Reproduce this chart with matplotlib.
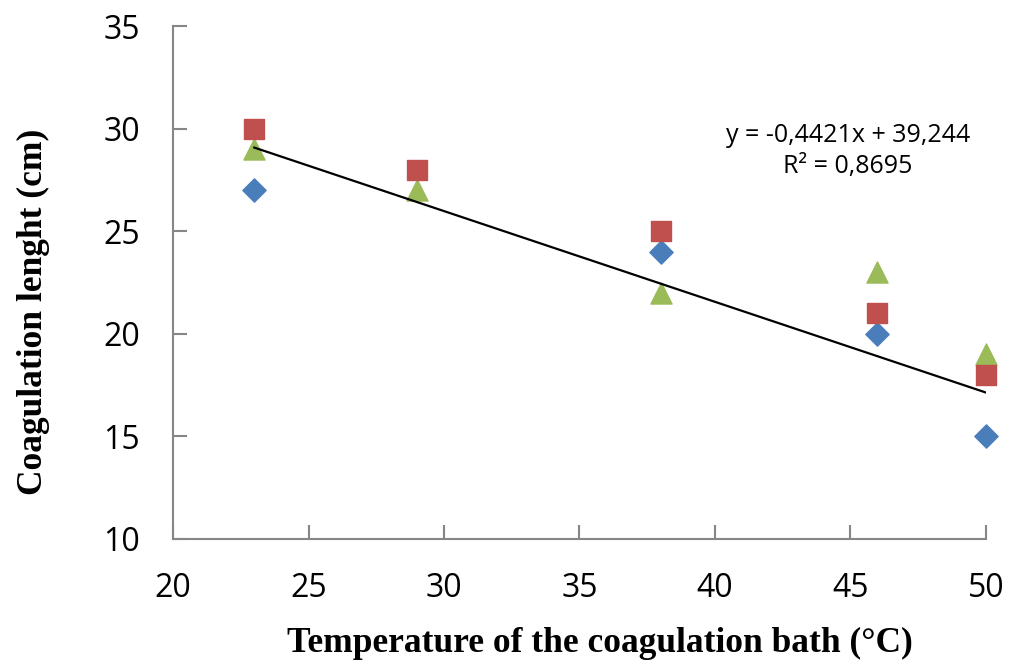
import numpy as np
import matplotlib
matplotlib.use('Agg')
import matplotlib.pyplot as plt
from matplotlib.transforms import IdentityTransform

temps = [23, 29, 38, 46, 50]
blue_vals = [27, np.nan, 24, 20, 15]   # no visible blue point at 29
red_vals = [30, 28, 25, 21, 18]
green_vals = [29, 27, 22, 23, 19]
slope, intercept = -0.4421, 39.244
eq_text = "y = -0,4421x + 39,244\nR² = 0,8695"

fig = plt.figure(figsize=(10.09, 6.64), dpi=100)
ax = fig.add_axes([0.1715, 0.1883, 0.8055, 0.7725])

ax.scatter(temps, blue_vals, marker='D', s=140, color='#4a7ebb', zorder=3, clip_on=False)
ax.scatter(temps, red_vals, marker='s', s=220, color='#c0504d', zorder=4, clip_on=False)
ax.scatter(temps, green_vals, marker='^', s=230, color='#9bbb59', zorder=3, clip_on=False)

xt = np.array([min(temps), max(temps)])
ax.plot(xt, slope * xt + intercept, color='black', lw=1.6, zorder=5)

ax.set_xlim(20, 50)
ax.set_ylim(10, 35)
ax.set_xticks(range(20, 51, 5))
ax.set_yticks(range(10, 36, 5))
for s in ['top', 'right']:
    ax.spines[s].set_visible(False)
for s in ['left', 'bottom']:
    ax.spines[s].set_color('#868686')
    ax.spines[s].set_linewidth(1.5)
ax.tick_params(direction='in', length=10, width=1.5, color='#868686',
               labelsize=23, pad=24)
for lab in ax.get_xticklabels() + ax.get_yticklabels():
    lab.set_fontfamily('Open Sans')

ax.set_xlabel('Temperature of the coagulation bath (°C)', family='Liberation Serif',
              fontweight='bold', fontsize=25.5)
ax.set_ylabel('Coagulation lenght (cm)', family='Liberation Serif',
              fontweight='bold', fontsize=25.5)
ax.xaxis.set_label_coords(0.525, -0.172)
ax.yaxis.set_label_coords(-0.152, 0.443)

ax.text(848, 664 - 151, eq_text, transform=IdentityTransform(), ha='center', va='center',
        fontsize=18, family='Open Sans', linespacing=1.3)

fig.savefig('out.png', dpi=100)
